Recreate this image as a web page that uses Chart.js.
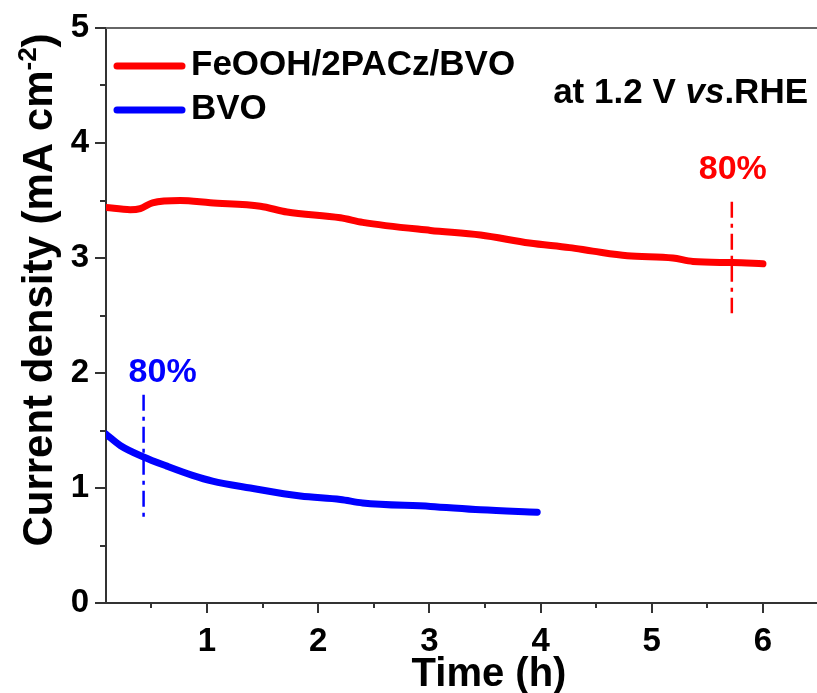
<!DOCTYPE html>
<html lang="en">
<head>
<meta charset="UTF-8">
<title>Current density stability</title>
<script src="https://cdn.jsdelivr.net/npm/chart.js"></script>
<style>
    html, body {
        margin: 0;
        padding: 0;
        background: #ffffff;
        overflow: hidden;
    }
    #stability {
        display: block;
    }
</style>
</head>
<body>
<canvas id="stability" width="817" height="693"></canvas>
<script>
    // series names and colours
    const seriesNames = ['FeOOH/2PACz/BVO', 'BVO'];
    const seriesColors = ['#ff0000', '#0000ff'];

    // FeOOH/2PACz/BVO
    const fePacTime = [0.09, 0.31, 0.40, 0.51, 0.76, 1.03, 1.48, 1.72, 2.20, 2.40, 3.01, 3.46, 3.90, 4.26, 4.47, 4.78, 5.19, 5.37, 5.73, 6.00];
    const fePacCurrent = [3.44, 3.42, 3.43, 3.48, 3.50, 3.48, 3.45, 3.40, 3.35, 3.31, 3.24, 3.20, 3.13, 3.09, 3.06, 3.02, 3.00, 2.97, 2.96, 2.95];

    // bare BVO
    const bvoTime = [0.09, 0.22, 0.43, 0.64, 0.87, 1.05, 1.39, 1.84, 2.20, 2.40, 3.01, 3.46, 3.97];
    const bvoCurrent = [1.47, 1.37, 1.27, 1.19, 1.11, 1.06, 1.00, 0.93, 0.90, 0.87, 0.84, 0.81, 0.79];

    // ticks (majors get labels, halves are minor)
    const xTickValues = [0.5, 1, 1.5, 2, 2.5, 3, 3.5, 4, 4.5, 5, 5.5, 6];
    const yTickValues = [0, 0.5, 1, 1.5, 2, 2.5, 3, 3.5, 4, 4.5, 5];

    // 80 % retention markers: time, bottom and top of the dash-dot line
    const retentionTime = [5.72, 0.43];
    const retentionLow = [2.52, 0.70];
    const retentionHigh = [3.49, 1.81];
    const retentionText = '80%';

    const FONT = '"Liberation Sans", Arial, sans-serif';

    function toPoints(xs, ys) {
        return xs.map((v, i) => ({ x: v, y: ys[i] }));
    }

    function isMajor(v) {
        return Math.abs(v - Math.round(v)) < 1e-6;
    }

    const decorations = {
        id: 'decorations',
        afterDraw(chart) {
            const { ctx, chartArea, scales } = chart;
            const x = scales.x, y = scales.y;
            ctx.save();

            // top frame line
            ctx.strokeStyle = '#666666';
            ctx.lineWidth = 2;
            ctx.beginPath();
            ctx.moveTo(chartArea.left, chartArea.top);
            ctx.lineTo(chartArea.right, chartArea.top);
            ctx.stroke();

            // outward tick marks
            ctx.strokeStyle = '#333333';
            ctx.lineWidth = 2;
            xTickValues.forEach(v => {
                const px = Math.round(x.getPixelForValue(v));
                const len = isMajor(v) ? 10 : 5;
                ctx.beginPath();
                ctx.moveTo(px, chartArea.bottom);
                ctx.lineTo(px, chartArea.bottom + len);
                ctx.stroke();
            });
            yTickValues.forEach(v => {
                const py = Math.round(y.getPixelForValue(v));
                const len = isMajor(v) ? 11 : 6;
                ctx.beginPath();
                ctx.moveTo(chartArea.left - len, py);
                ctx.lineTo(chartArea.left, py);
                ctx.stroke();
            });

            // retention markers
            const labelPos = [{ dx: 1, dy: 0.28 }, { dx: 19, dy: 0.19 }];
            retentionTime.forEach((t, i) => {
                const px = x.getPixelForValue(t);
                ctx.strokeStyle = seriesColors[i];
                ctx.lineWidth = 2.5;
                ctx.setLineDash([16, 6, 4, 6]);
                ctx.beginPath();
                ctx.moveTo(px, y.getPixelForValue(retentionHigh[i]));
                ctx.lineTo(px, y.getPixelForValue(retentionLow[i]));
                ctx.stroke();
                ctx.setLineDash([]);

                ctx.fillStyle = seriesColors[i];
                ctx.font = 'bold 34px ' + FONT;
                ctx.textAlign = 'center';
                ctx.textBaseline = 'middle';
                ctx.fillText(retentionText, px + labelPos[i].dx,
                    y.getPixelForValue(retentionHigh[i] + labelPos[i].dy));
            });

            // legend
            const legendY = [66, 110];
            chart.data.datasets.forEach((ds, i) => {
                ctx.strokeStyle = ds.borderColor;
                ctx.lineWidth = 7;
                ctx.lineCap = 'round';
                ctx.beginPath();
                ctx.moveTo(117, legendY[i]);
                ctx.lineTo(182, legendY[i]);
                ctx.stroke();
                ctx.fillStyle = '#000000';
                ctx.font = 'bold 35px ' + FONT;
                ctx.textAlign = 'left';
                ctx.textBaseline = 'middle';
                ctx.fillText(ds.label, 191, legendY[i] - 1);
            });

            // condition note, "vs" in italics
            const parts = [
                { t: 'at 1.2 V ', f: 'bold 35px ' + FONT },
                { t: 'vs', f: 'italic bold 35px ' + FONT },
                { t: '.RHE', f: 'bold 35px ' + FONT }
            ];
            let total = 0;
            parts.forEach(p => { ctx.font = p.f; p.w = ctx.measureText(p.t).width; total += p.w; });
            let cx = 808 - total;
            ctx.textAlign = 'left';
            ctx.textBaseline = 'middle';
            ctx.fillStyle = '#000000';
            parts.forEach(p => { ctx.font = p.f; ctx.fillText(p.t, cx, 93); cx += p.w; });

            // x axis title
            ctx.font = 'bold 40px ' + FONT;
            ctx.textAlign = 'center';
            ctx.textBaseline = 'alphabetic';
            ctx.fillText('Time (h)', 489, 686);

            // y axis title with superscript
            const main = 'Current density (mA cm';
            const sup = '-2';
            const close = ')';
            ctx.font = 'bold 42px ' + FONT;
            const wMain = ctx.measureText(main).width;
            const wClose = ctx.measureText(close).width;
            ctx.font = 'bold 26px ' + FONT;
            const wSup = ctx.measureText(sup).width;
            const wAll = wMain + wSup + wClose;
            ctx.translate(52, 290);
            ctx.rotate(-Math.PI / 2);
            ctx.textAlign = 'left';
            let sx = -wAll / 2;
            ctx.font = 'bold 42px ' + FONT;
            ctx.fillText(main, sx, 0);
            sx += wMain;
            ctx.font = 'bold 26px ' + FONT;
            ctx.fillText(sup, sx, -16);
            sx += wSup;
            ctx.font = 'bold 42px ' + FONT;
            ctx.fillText(close, sx, 0);

            ctx.restore();
        }
    };

    const ctx = document.getElementById('stability').getContext('2d');
    new Chart(ctx, {
        type: 'line',
        data: {
            datasets: [
                {
                    label: seriesNames[0],
                    data: toPoints(fePacTime, fePacCurrent),
                    borderColor: seriesColors[0],
                    borderWidth: 7,
                    pointRadius: 0,
                    borderCapStyle: 'round',
                    borderJoinStyle: 'round',
                    cubicInterpolationMode: 'monotone',
                    fill: false
                },
                {
                    label: seriesNames[1],
                    data: toPoints(bvoTime, bvoCurrent),
                    borderColor: seriesColors[1],
                    borderWidth: 7,
                    pointRadius: 0,
                    borderCapStyle: 'round',
                    borderJoinStyle: 'round',
                    cubicInterpolationMode: 'monotone',
                    fill: false
                }
            ]
        },
        options: {
            responsive: false,
            animation: false,
            layout: {
                padding: { top: 28, right: 0, left: 0, bottom: 0 }
            },
            plugins: {
                legend: { display: false },
                title: { display: false },
                tooltip: { enabled: false }
            },
            scales: {
                x: {
                    type: 'linear',
                    min: 0.092,
                    max: 6.486,
                    afterFit(scale) { scale.height = 90; scale.paddingRight = 0; scale.paddingLeft = 0; },
                    afterBuildTicks(scale) { scale.ticks = xTickValues.map(v => ({ value: v })); },
                    grid: { display: false, drawTicks: false },
                    border: { display: true, color: '#333333', width: 2 },
                    ticks: {
                        autoSkip: false,
                        maxRotation: 0,
                        padding: 19,
                        color: '#000000',
                        font: { family: FONT, size: 33, weight: 'bold' },
                        callback: v => isMajor(v) ? String(v) : ''
                    }
                },
                y: {
                    min: 0,
                    max: 5,
                    afterFit(scale) { scale.width = 106; scale.paddingTop = 0; scale.paddingBottom = 0; },
                    afterBuildTicks(scale) { scale.ticks = yTickValues.map(v => ({ value: v })); },
                    grid: { display: false, drawTicks: false },
                    border: { display: true, color: '#333333', width: 2 },
                    ticks: {
                        autoSkip: false,
                        padding: 17,
                        color: '#000000',
                        font: { family: FONT, size: 33, weight: 'bold' },
                        callback: v => isMajor(v) ? String(v) : ''
                    }
                }
            }
        },
        plugins: [decorations]
    });
</script>
</body>
</html>
